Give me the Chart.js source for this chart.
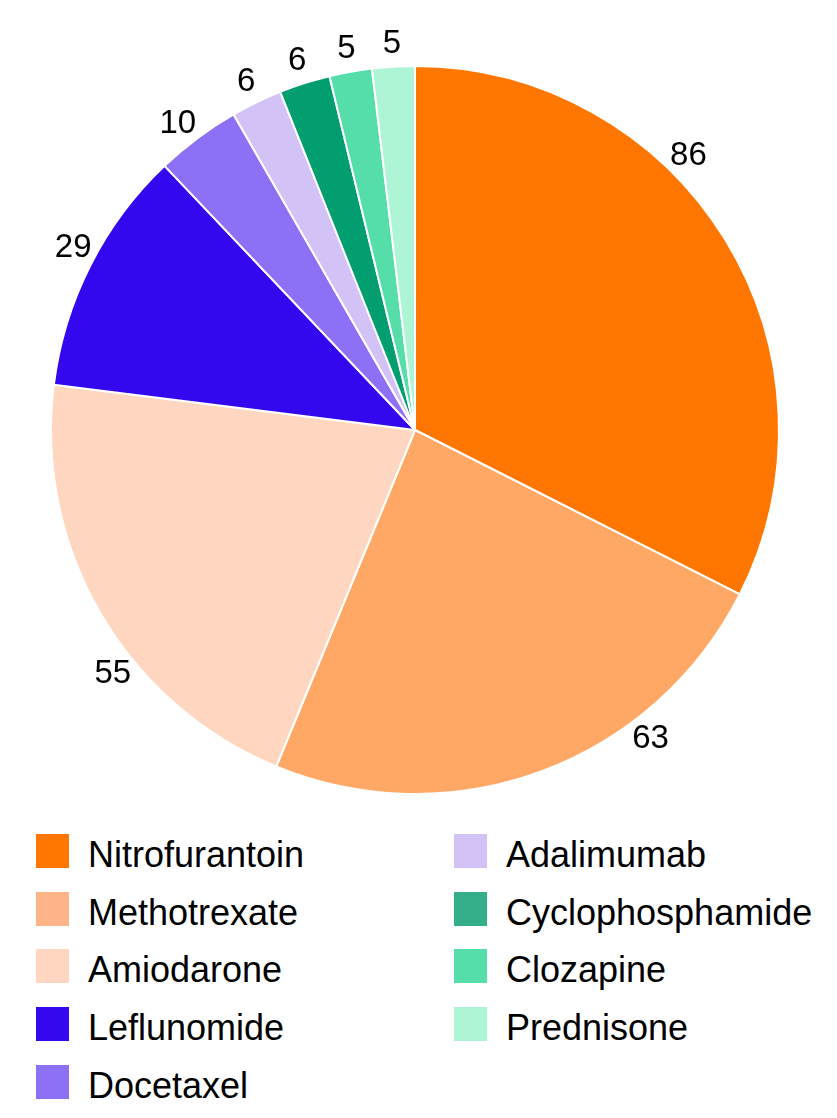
<!DOCTYPE html>
<html>
<head>
<meta charset="utf-8">
<script src="https://cdn.jsdelivr.net/npm/chart.js@4.4.1/dist/chart.umd.min.js"></script>
<style>
    body { margin: 0; background: #fff; font-family: "Liberation Sans", Arial, sans-serif; }
    #wrap { position: relative; width: 837px; height: 830px; }
    #leyenda {
        position: absolute; left: 36px; top: 834px;
        display: grid; grid-template-columns: 418px 380px;
        grid-auto-flow: column; grid-template-rows: repeat(5, 57.7px);
    }
    .item { display: flex; align-items: center; height: 34px; font-size: 36px; color: #000; white-space: nowrap; }
    .item span.txt { position: relative; top: 4px; }
    .caja { width: 33px; height: 34px; margin-right: 19px; flex: none; }
</style>
</head>
<body>
<div id="wrap"><canvas id="pastel"></canvas></div>
<div id="leyenda"></div>
<script>
/* ==================
    DATOS
================== */
const farmacos = ['Nitrofurantoin', 'Methotrexate', 'Amiodarone', 'Leflunomide', 'Docetaxel',
                  'Adalimumab', 'Cyclophosphamide', 'Clozapine', 'Prednisone'];
const casos = [86, 63, 55, 29, 10, 6, 6, 5, 5];
const colores = ['#ff7700', '#ffa866', '#ffd6bf', '#3308ee', '#8c70f5',
                 '#d2c2f5', '#029e70', '#55ddaa', '#aef5d6'];
const coloresLeyenda = ['#ff7700', '#ffb487', '#ffd6bf', '#3308ee', '#8c70f5',
                        '#d2c2f5', '#35af8a', '#55ddaa', '#aef5d6'];

// Etiquetas de valor fuera del pastel (con pequeño giro en las porciones grandes)
const etiquetasFuera = {
    id: 'etiquetasFuera',
    afterDatasetsDraw(chart, args, opts) {
        const ctx = chart.ctx;
        const arcos = chart.getDatasetMeta(0).data;
        ctx.save();
        ctx.font = '33px "Liberation Sans", Arial, sans-serif';
        ctx.fillStyle = '#000';
        ctx.textAlign = 'center';
        ctx.textBaseline = 'middle';
        arcos.forEach((arco, i) => {
            const giro = (opts.giro[i] || 0) * Math.PI / 180;
            const medio = (arco.startAngle + arco.endAngle) / 2 + giro;
            const r = arco.outerRadius + opts.distancia;
            ctx.fillText(String(casos[i]), arco.x + Math.cos(medio) * r, arco.y + Math.sin(medio) * r + 1);
        });
        ctx.restore();
    }
};

const canvas = document.getElementById('pastel');
canvas.width = 837;
canvas.height = 830;

new Chart(canvas.getContext('2d'), {
    type: 'pie',
    data: {
        labels: farmacos,
        datasets: [{
            data: casos,
            backgroundColor: colores,
            borderColor: '#ffffff',
            borderWidth: 2
        }]
    },
    options: {
        responsive: false,
        animation: false,
        layout: { padding: { left: 50, right: 57, top: 65, bottom: 35 } },
        plugins: {
            legend: { display: false },
            tooltip: { enabled: false },
            etiquetasFuera: { distancia: 24, giro: [-13.6, -17, -8.6, 1.4, -1, 0, 0, 0, 0] }
        }
    },
    plugins: [etiquetasFuera]
});

// Leyenda en dos columnas
const leyenda = document.getElementById('leyenda');
farmacos.forEach((nombre, i) => {
    const item = document.createElement('div');
    item.className = 'item';
    item.innerHTML = '<span class="caja" style="background:' + coloresLeyenda[i] + '"></span><span class="txt">' + nombre + '</span>';
    leyenda.appendChild(item);
});
</script>
</body>
</html>
